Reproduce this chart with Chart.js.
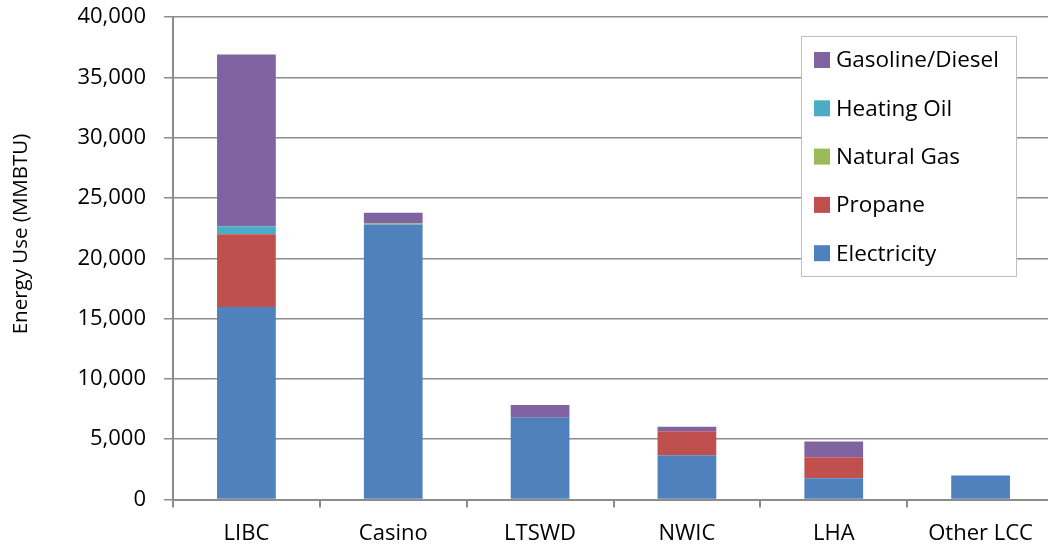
<!DOCTYPE html>
<html>
<head>
<meta charset="utf-8">
<script src="https://cdn.jsdelivr.net/npm/chart.js@4"></script>
<style>
  html, body { margin: 0; padding: 0; background: #fff; overflow: hidden; }
  #wrap { position: relative; width: 1054px; height: 550px; }
</style>
</head>
<body>
<div id="wrap"><canvas id="energyChart"></canvas></div>
<script>
// sites and energy use per fuel (MMBTU)
const sites = ['LIBC', 'Casino', 'LTSWD', 'NWIC', 'LHA', 'Other LCC'];
const electricity    = [15950, 22800, 6780, 3670, 1760, 1980];
const propane        = [6050, 0, 0, 1980, 1740, 0];
const naturalGas     = [0, 80, 0, 0, 0, 20];
const heatingOil     = [650, 0, 0, 0, 0, 0];
const gasolineDiesel = [14250, 900, 1050, 380, 1300, 0];
const yMax = 40000;
const yStep = 5000;
const yTitle = 'Energy Use (MMBTU)';

const FONT = '"Open Sans", "Liberation Sans", sans-serif';
const AXIS_GREY = '#8c8c8c';

// y axis title, drawn by hand so it can sit a little above centre
const yTitlePlugin = {
  id: 'yTitlePlugin',
  afterDraw(chart) {
    const ctx = chart.ctx;
    ctx.save();
    ctx.translate(21, 234);
    ctx.rotate(-Math.PI / 2);
    ctx.fillStyle = '#000';
    ctx.font = '20.5px ' + FONT;
    ctx.textAlign = 'center';
    ctx.textBaseline = 'middle';
    ctx.fillText(yTitle, 0, 0);
    ctx.restore();
  }
};

// legend drawn as a boxed list in the upper right of the plot
const boxLegend = {
  id: 'boxLegend',
  afterDraw(chart) {
    const ctx = chart.ctx;
    const x = 801, y = 36, w = 215, h = 240;
    ctx.save();
    ctx.fillStyle = '#fff';
    ctx.fillRect(x, y, w, h);
    ctx.strokeStyle = '#bfbfbf';
    ctx.lineWidth = 1;
    ctx.strokeRect(x + 0.5, y + 0.5, w, h);
    const items = chart.data.datasets.slice().reverse();
    items.forEach((ds, i) => {
      const cy = 60 + i * 48.3;
      ctx.fillStyle = ds.backgroundColor;
      ctx.fillRect(814, cy - 8, 16, 16);
      ctx.fillStyle = '#000';
      ctx.font = '22.5px ' + FONT;
      ctx.textBaseline = 'middle';
      ctx.textAlign = 'left';
      ctx.fillText(ds.label, 836, cy + 1);
    });
    ctx.restore();
  }
};

const ctx = document.getElementById('energyChart').getContext('2d');
new Chart(ctx, {
  type: 'bar',
  data: {
    labels: sites,
    datasets: [
      { label: 'Electricity',     data: electricity,    backgroundColor: '#4f81bd' },
      { label: 'Propane',         data: propane,        backgroundColor: '#c0504d' },
      { label: 'Natural Gas',     data: naturalGas,     backgroundColor: '#9bbb59' },
      { label: 'Heating Oil',     data: heatingOil,     backgroundColor: '#4bacc6' },
      { label: 'Gasoline/Diesel', data: gasolineDiesel, backgroundColor: '#8064a2' }
    ]
  },
  options: {
    responsive: true,
    maintainAspectRatio: false,
    animation: false,
    layout: { padding: { top: 17, left: 0, right: 0, bottom: 0 } },
    datasets: { bar: { categoryPercentage: 1, barPercentage: 0.4, borderWidth: 0 } },
    plugins: {
      legend: { display: false },
      tooltip: { enabled: false }
    },
    scales: {
      x: {
        stacked: true,
        grid: { display: true, drawOnChartArea: false, drawTicks: true, tickLength: 8, color: AXIS_GREY, lineWidth: 2, offset: true },
        border: { color: AXIS_GREY, width: 2 },
        ticks: { color: '#000', font: { family: FONT, size: 22 }, padding: 13 },
        afterFit(scale) {
          scale.height = 50.5;
          scale.paddingLeft = 0;
          scale.paddingRight = 0;
        }
      },
      y: {
        stacked: true,
        min: 0,
        max: yMax,
        grid: { color: AXIS_GREY, lineWidth: 1.5, tickLength: 9 },
        border: { color: AXIS_GREY, width: 2 },
        ticks: {
          stepSize: yStep,
          color: '#000',
          font: { family: FONT, size: 22 },
          padding: 18,
          callback: v => v.toLocaleString('en-US')
        },
        afterFit(scale) {
          scale.width = 173;
          scale.paddingTop = 0;
          scale.paddingBottom = 0;
        }
      }
    }
  },
  plugins: [boxLegend, yTitlePlugin]
});
</script>
</body>
</html>
